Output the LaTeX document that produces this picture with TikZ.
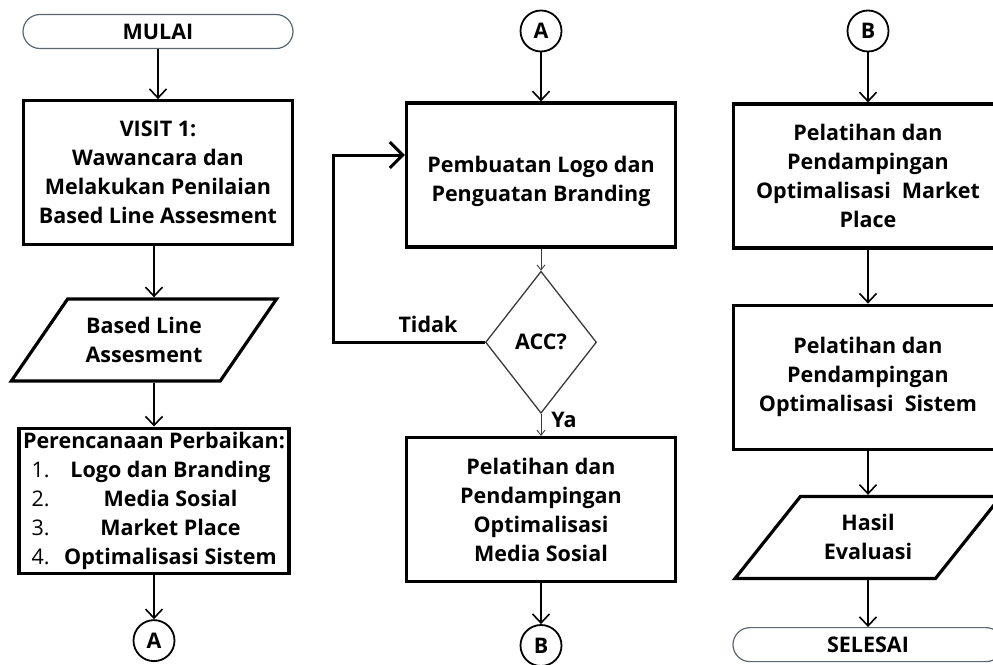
\documentclass[tikz,border=0pt]{standalone}
\usepackage{fontspec}
\setmainfont{Open Sans}
\usepackage{xcolor}
\usepackage{tikz}
\usetikzlibrary{arrows.meta,positioning,shapes.geometric}
\definecolor{termline}{HTML}{5B6670}
\definecolor{decline}{HTML}{3A3A3A}

\begin{document}
\begin{tikzpicture}[
  x=1pt, y=-1pt,
  font=\bfseries\fontsize{21.5}{29}\selectfont,
  proc/.style={draw, line width=3.2pt, minimum width=269pt, minimum height=144pt,
               align=center, inner sep=4pt},
  term/.style={draw=termline, line width=1.2pt, rounded corners=17pt,
               minimum width=270pt, minimum height=34pt, inner sep=2pt},
  io/.style={trapezium, trapezium left angle=48, trapezium right angle=132,
             trapezium stretches=true, draw, line width=3.2pt, minimum width=266pt,
             minimum height=82pt, align=center, inner sep=2pt},
  conn/.style={circle, draw, line width=1.8pt, minimum size=41pt, inner sep=0pt},
  decide/.style={diamond, draw=decline, line width=1.3pt, minimum width=111pt,
                 minimum height=142pt, inner sep=0pt},
  lbl/.style={inner sep=1pt},
  arr/.style={-{Straight Barb[length=9pt,width=17pt]}, line width=1.6pt},
  thinarr/.style={-{Straight Barb[length=5pt,width=8pt]}, line width=0.9pt, draw=decline},
  backarr/.style={-{Straight Barb[length=13pt,width=26pt]}, line width=3pt}
]
\useasboundingbox (0,0) rectangle (993,664);
\clip (0,0) rectangle (993,664);

% kolom 1
\node[term] (mulai) at (158,31.5) {MULAI};
\node[proc, below=50pt of mulai] (visit)
     {VISIT 1:\\ Wawancara dan\\ Melakukan Penilaian\\ Based Line Assesment};
\node[io, below=51pt of visit, xshift=-14pt] (bli) {Based Line\\ Assesment};
\node[proc, below=44pt of bli, xshift=10pt] (plan)
     {Perencanaan Perbaikan:\\
      \makebox[33pt][l]{\mdseries 1.}\makebox[212pt]{Logo dan Branding}\\
      \makebox[33pt][l]{\mdseries 2.}\makebox[212pt]{Media Sosial}\\
      \makebox[33pt][l]{\mdseries 3.}\makebox[212pt]{Market Place}\\
      \makebox[33pt][l]{\mdseries 4.}\makebox[212pt]{Optimalisasi Sistem}};
\node[conn, below=44pt of plan] (ca) {A};

% kolom 2
\node[conn] (a2) at (541,31) {A};
\node[proc, below=49pt of a2] (logo)
     {\rule{0pt}{29pt}Pembuatan Logo dan\\ Penguatan Branding};
\node[decide, below=22pt of logo] (acc) {ACC?};
\node[proc, below=22pt of acc] (medsos)
     {Pelatihan dan\\ Pendampingan\\ Optimalisasi\\ Media Sosial};
\node[conn, below=41pt of medsos] (b1) {B};
\node[lbl] (tidak) at (428,324) {Tidak};
\node[lbl] (ya) at (564,420) {Ya};
\coordinate (back) at (333,155);

% kolom 3
\node[conn] (b2) at (868,31) {B};
\node[proc, below=50pt of b2] (mp)
     {Pelatihan dan\\ Pendampingan\\ Optimalisasi~ Market\\ Place};
\node[proc, below=54pt of mp] (sistem)
     {Pelatihan dan\\ Pendampingan\\ Optimalisasi~ Sistem};
\node[io, below=44pt of sistem] (hasil) {Hasil\\ Evaluasi};
\node[term, below=47pt of hasil] (selesai) {SELESAI};

\draw[arr] (mulai) -- (visit);
\draw[arr] (visit.south -| plan.north) -- (bli.north -| plan.north);
\draw[arr] (bli.south -| plan.north) -- (plan.north);
\draw[arr] (plan) -- (ca);

\draw[arr] (a2) -- (logo);
\draw[thinarr] (logo) -- (acc);
\draw[thinarr] (acc) -- (medsos);
\draw[backarr] (acc.west) -| (back) -- (back -| logo.west);
\draw[arr] (medsos) -- (b1);

\draw[arr] (b2) -- (mp);
\draw[arr] (mp) -- (sistem);
\draw[arr] (sistem) -- (hasil);
\draw[arr] (hasil) -- (selesai);
\end{tikzpicture}
\end{document}
